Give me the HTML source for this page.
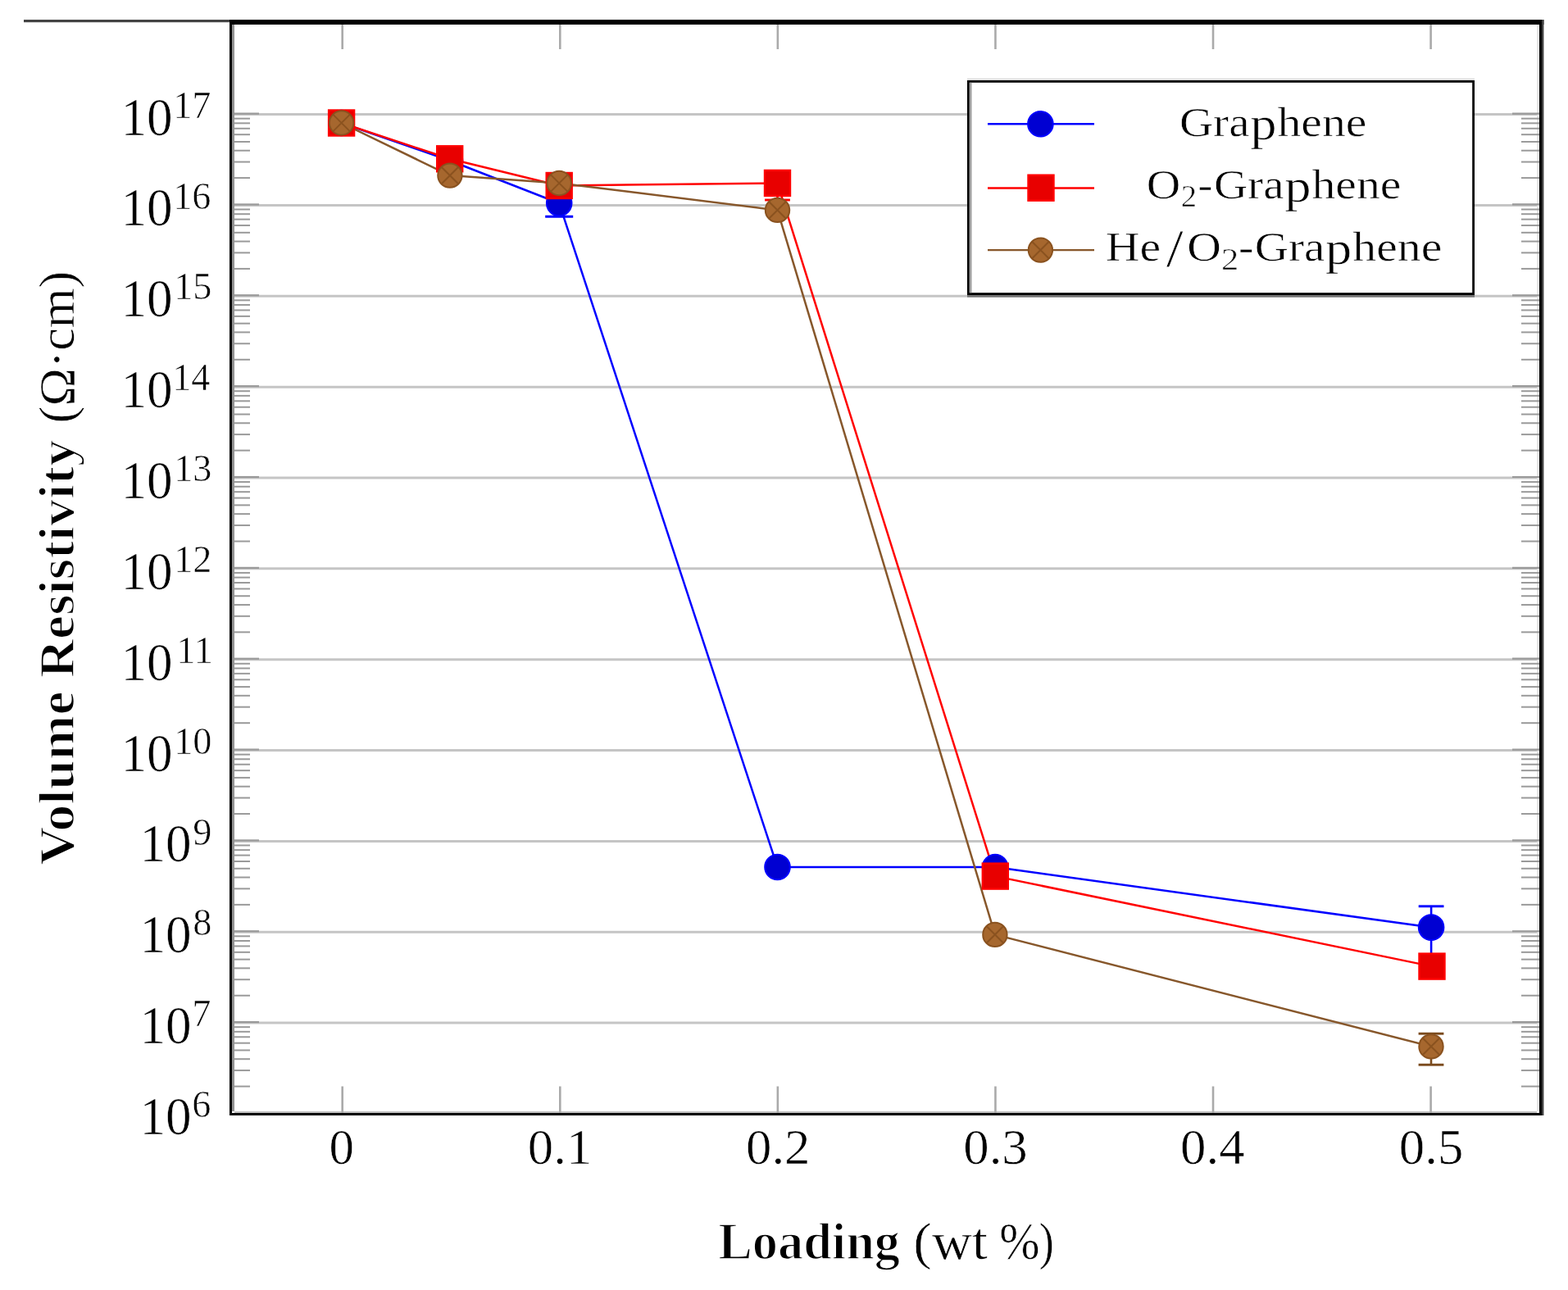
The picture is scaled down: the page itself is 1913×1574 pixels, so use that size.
<!DOCTYPE html><html><head><meta charset="utf-8"><style>html,body{margin:0;padding:0;background:#fff;}body{width:1913px;height:1574px;overflow:hidden;}svg{display:block;}text{font-family:"Liberation Serif", "DejaVu Serif", serif;stroke:#fff;stroke-width:0.6px;}text[font-weight=bold]{stroke-width:1.6px;}</style></head><body>
<svg width="1913" height="1574" viewBox="0 0 1913 1574">
<rect width="1913" height="1574" fill="#fff"/>
<rect x="29" y="24" width="252" height="3.2" fill="#444"/>
<rect x="283" y="30" width="3" height="1326" fill="#939393"/>
<rect x="1875" y="30" width="3" height="1326" fill="#e6e6e6"/>
<rect x="286" y="1355.8" width="1589" height="2.4" fill="#c2c2c2"/>
<line x1="286" y1="1248.10" x2="1875" y2="1248.10" stroke="#c5c5c5" stroke-width="3.0"/>
<line x1="286" y1="1137.25" x2="1875" y2="1137.25" stroke="#c5c5c5" stroke-width="3.0"/>
<line x1="286" y1="1026.40" x2="1875" y2="1026.40" stroke="#c5c5c5" stroke-width="3.0"/>
<line x1="286" y1="915.55" x2="1875" y2="915.55" stroke="#c5c5c5" stroke-width="3.0"/>
<line x1="286" y1="804.70" x2="1875" y2="804.70" stroke="#c5c5c5" stroke-width="3.0"/>
<line x1="286" y1="693.85" x2="1875" y2="693.85" stroke="#c5c5c5" stroke-width="3.0"/>
<line x1="286" y1="583.00" x2="1875" y2="583.00" stroke="#c5c5c5" stroke-width="3.0"/>
<line x1="286" y1="472.15" x2="1875" y2="472.15" stroke="#c5c5c5" stroke-width="3.0"/>
<line x1="286" y1="361.30" x2="1875" y2="361.30" stroke="#c5c5c5" stroke-width="3.0"/>
<line x1="286" y1="250.45" x2="1875" y2="250.45" stroke="#c5c5c5" stroke-width="3.0"/>
<line x1="286" y1="139.60" x2="1875" y2="139.60" stroke="#c5c5c5" stroke-width="3.0"/>
<line x1="286" y1="1325.58" x2="305" y2="1325.58" stroke="#9a9a9a" stroke-width="2"/>
<line x1="1856" y1="1325.58" x2="1878" y2="1325.58" stroke="#9a9a9a" stroke-width="2"/>
<line x1="286" y1="1306.06" x2="305" y2="1306.06" stroke="#9a9a9a" stroke-width="2"/>
<line x1="1856" y1="1306.06" x2="1878" y2="1306.06" stroke="#9a9a9a" stroke-width="2"/>
<line x1="286" y1="1292.21" x2="305" y2="1292.21" stroke="#9a9a9a" stroke-width="2"/>
<line x1="1856" y1="1292.21" x2="1878" y2="1292.21" stroke="#9a9a9a" stroke-width="2"/>
<line x1="286" y1="1281.47" x2="305" y2="1281.47" stroke="#9a9a9a" stroke-width="2"/>
<line x1="1856" y1="1281.47" x2="1878" y2="1281.47" stroke="#9a9a9a" stroke-width="2"/>
<line x1="286" y1="1272.69" x2="305" y2="1272.69" stroke="#9a9a9a" stroke-width="2"/>
<line x1="1856" y1="1272.69" x2="1878" y2="1272.69" stroke="#9a9a9a" stroke-width="2"/>
<line x1="286" y1="1265.27" x2="305" y2="1265.27" stroke="#9a9a9a" stroke-width="2"/>
<line x1="1856" y1="1265.27" x2="1878" y2="1265.27" stroke="#9a9a9a" stroke-width="2"/>
<line x1="286" y1="1258.84" x2="305" y2="1258.84" stroke="#9a9a9a" stroke-width="2"/>
<line x1="1856" y1="1258.84" x2="1878" y2="1258.84" stroke="#9a9a9a" stroke-width="2"/>
<line x1="286" y1="1253.17" x2="305" y2="1253.17" stroke="#9a9a9a" stroke-width="2"/>
<line x1="1856" y1="1253.17" x2="1878" y2="1253.17" stroke="#9a9a9a" stroke-width="2"/>
<line x1="286" y1="1247.10" x2="316" y2="1247.10" stroke="#999" stroke-width="2.2"/>
<line x1="1845" y1="1247.10" x2="1878" y2="1247.10" stroke="#999" stroke-width="2.2"/>
<line x1="286" y1="1214.73" x2="305" y2="1214.73" stroke="#9a9a9a" stroke-width="2"/>
<line x1="1856" y1="1214.73" x2="1878" y2="1214.73" stroke="#9a9a9a" stroke-width="2"/>
<line x1="286" y1="1195.21" x2="305" y2="1195.21" stroke="#9a9a9a" stroke-width="2"/>
<line x1="1856" y1="1195.21" x2="1878" y2="1195.21" stroke="#9a9a9a" stroke-width="2"/>
<line x1="286" y1="1181.36" x2="305" y2="1181.36" stroke="#9a9a9a" stroke-width="2"/>
<line x1="1856" y1="1181.36" x2="1878" y2="1181.36" stroke="#9a9a9a" stroke-width="2"/>
<line x1="286" y1="1170.62" x2="305" y2="1170.62" stroke="#9a9a9a" stroke-width="2"/>
<line x1="1856" y1="1170.62" x2="1878" y2="1170.62" stroke="#9a9a9a" stroke-width="2"/>
<line x1="286" y1="1161.84" x2="305" y2="1161.84" stroke="#9a9a9a" stroke-width="2"/>
<line x1="1856" y1="1161.84" x2="1878" y2="1161.84" stroke="#9a9a9a" stroke-width="2"/>
<line x1="286" y1="1154.42" x2="305" y2="1154.42" stroke="#9a9a9a" stroke-width="2"/>
<line x1="1856" y1="1154.42" x2="1878" y2="1154.42" stroke="#9a9a9a" stroke-width="2"/>
<line x1="286" y1="1147.99" x2="305" y2="1147.99" stroke="#9a9a9a" stroke-width="2"/>
<line x1="1856" y1="1147.99" x2="1878" y2="1147.99" stroke="#9a9a9a" stroke-width="2"/>
<line x1="286" y1="1142.32" x2="305" y2="1142.32" stroke="#9a9a9a" stroke-width="2"/>
<line x1="1856" y1="1142.32" x2="1878" y2="1142.32" stroke="#9a9a9a" stroke-width="2"/>
<line x1="286" y1="1136.25" x2="316" y2="1136.25" stroke="#999" stroke-width="2.2"/>
<line x1="1845" y1="1136.25" x2="1878" y2="1136.25" stroke="#999" stroke-width="2.2"/>
<line x1="286" y1="1103.88" x2="305" y2="1103.88" stroke="#9a9a9a" stroke-width="2"/>
<line x1="1856" y1="1103.88" x2="1878" y2="1103.88" stroke="#9a9a9a" stroke-width="2"/>
<line x1="286" y1="1084.36" x2="305" y2="1084.36" stroke="#9a9a9a" stroke-width="2"/>
<line x1="1856" y1="1084.36" x2="1878" y2="1084.36" stroke="#9a9a9a" stroke-width="2"/>
<line x1="286" y1="1070.51" x2="305" y2="1070.51" stroke="#9a9a9a" stroke-width="2"/>
<line x1="1856" y1="1070.51" x2="1878" y2="1070.51" stroke="#9a9a9a" stroke-width="2"/>
<line x1="286" y1="1059.77" x2="305" y2="1059.77" stroke="#9a9a9a" stroke-width="2"/>
<line x1="1856" y1="1059.77" x2="1878" y2="1059.77" stroke="#9a9a9a" stroke-width="2"/>
<line x1="286" y1="1050.99" x2="305" y2="1050.99" stroke="#9a9a9a" stroke-width="2"/>
<line x1="1856" y1="1050.99" x2="1878" y2="1050.99" stroke="#9a9a9a" stroke-width="2"/>
<line x1="286" y1="1043.57" x2="305" y2="1043.57" stroke="#9a9a9a" stroke-width="2"/>
<line x1="1856" y1="1043.57" x2="1878" y2="1043.57" stroke="#9a9a9a" stroke-width="2"/>
<line x1="286" y1="1037.14" x2="305" y2="1037.14" stroke="#9a9a9a" stroke-width="2"/>
<line x1="1856" y1="1037.14" x2="1878" y2="1037.14" stroke="#9a9a9a" stroke-width="2"/>
<line x1="286" y1="1031.47" x2="305" y2="1031.47" stroke="#9a9a9a" stroke-width="2"/>
<line x1="1856" y1="1031.47" x2="1878" y2="1031.47" stroke="#9a9a9a" stroke-width="2"/>
<line x1="286" y1="1025.40" x2="316" y2="1025.40" stroke="#999" stroke-width="2.2"/>
<line x1="1845" y1="1025.40" x2="1878" y2="1025.40" stroke="#999" stroke-width="2.2"/>
<line x1="286" y1="993.03" x2="305" y2="993.03" stroke="#9a9a9a" stroke-width="2"/>
<line x1="1856" y1="993.03" x2="1878" y2="993.03" stroke="#9a9a9a" stroke-width="2"/>
<line x1="286" y1="973.51" x2="305" y2="973.51" stroke="#9a9a9a" stroke-width="2"/>
<line x1="1856" y1="973.51" x2="1878" y2="973.51" stroke="#9a9a9a" stroke-width="2"/>
<line x1="286" y1="959.66" x2="305" y2="959.66" stroke="#9a9a9a" stroke-width="2"/>
<line x1="1856" y1="959.66" x2="1878" y2="959.66" stroke="#9a9a9a" stroke-width="2"/>
<line x1="286" y1="948.92" x2="305" y2="948.92" stroke="#9a9a9a" stroke-width="2"/>
<line x1="1856" y1="948.92" x2="1878" y2="948.92" stroke="#9a9a9a" stroke-width="2"/>
<line x1="286" y1="940.14" x2="305" y2="940.14" stroke="#9a9a9a" stroke-width="2"/>
<line x1="1856" y1="940.14" x2="1878" y2="940.14" stroke="#9a9a9a" stroke-width="2"/>
<line x1="286" y1="932.72" x2="305" y2="932.72" stroke="#9a9a9a" stroke-width="2"/>
<line x1="1856" y1="932.72" x2="1878" y2="932.72" stroke="#9a9a9a" stroke-width="2"/>
<line x1="286" y1="926.29" x2="305" y2="926.29" stroke="#9a9a9a" stroke-width="2"/>
<line x1="1856" y1="926.29" x2="1878" y2="926.29" stroke="#9a9a9a" stroke-width="2"/>
<line x1="286" y1="920.62" x2="305" y2="920.62" stroke="#9a9a9a" stroke-width="2"/>
<line x1="1856" y1="920.62" x2="1878" y2="920.62" stroke="#9a9a9a" stroke-width="2"/>
<line x1="286" y1="914.55" x2="316" y2="914.55" stroke="#999" stroke-width="2.2"/>
<line x1="1845" y1="914.55" x2="1878" y2="914.55" stroke="#999" stroke-width="2.2"/>
<line x1="286" y1="882.18" x2="305" y2="882.18" stroke="#9a9a9a" stroke-width="2"/>
<line x1="1856" y1="882.18" x2="1878" y2="882.18" stroke="#9a9a9a" stroke-width="2"/>
<line x1="286" y1="862.66" x2="305" y2="862.66" stroke="#9a9a9a" stroke-width="2"/>
<line x1="1856" y1="862.66" x2="1878" y2="862.66" stroke="#9a9a9a" stroke-width="2"/>
<line x1="286" y1="848.81" x2="305" y2="848.81" stroke="#9a9a9a" stroke-width="2"/>
<line x1="1856" y1="848.81" x2="1878" y2="848.81" stroke="#9a9a9a" stroke-width="2"/>
<line x1="286" y1="838.07" x2="305" y2="838.07" stroke="#9a9a9a" stroke-width="2"/>
<line x1="1856" y1="838.07" x2="1878" y2="838.07" stroke="#9a9a9a" stroke-width="2"/>
<line x1="286" y1="829.29" x2="305" y2="829.29" stroke="#9a9a9a" stroke-width="2"/>
<line x1="1856" y1="829.29" x2="1878" y2="829.29" stroke="#9a9a9a" stroke-width="2"/>
<line x1="286" y1="821.87" x2="305" y2="821.87" stroke="#9a9a9a" stroke-width="2"/>
<line x1="1856" y1="821.87" x2="1878" y2="821.87" stroke="#9a9a9a" stroke-width="2"/>
<line x1="286" y1="815.44" x2="305" y2="815.44" stroke="#9a9a9a" stroke-width="2"/>
<line x1="1856" y1="815.44" x2="1878" y2="815.44" stroke="#9a9a9a" stroke-width="2"/>
<line x1="286" y1="809.77" x2="305" y2="809.77" stroke="#9a9a9a" stroke-width="2"/>
<line x1="1856" y1="809.77" x2="1878" y2="809.77" stroke="#9a9a9a" stroke-width="2"/>
<line x1="286" y1="803.70" x2="316" y2="803.70" stroke="#999" stroke-width="2.2"/>
<line x1="1845" y1="803.70" x2="1878" y2="803.70" stroke="#999" stroke-width="2.2"/>
<line x1="286" y1="771.33" x2="305" y2="771.33" stroke="#9a9a9a" stroke-width="2"/>
<line x1="1856" y1="771.33" x2="1878" y2="771.33" stroke="#9a9a9a" stroke-width="2"/>
<line x1="286" y1="751.81" x2="305" y2="751.81" stroke="#9a9a9a" stroke-width="2"/>
<line x1="1856" y1="751.81" x2="1878" y2="751.81" stroke="#9a9a9a" stroke-width="2"/>
<line x1="286" y1="737.96" x2="305" y2="737.96" stroke="#9a9a9a" stroke-width="2"/>
<line x1="1856" y1="737.96" x2="1878" y2="737.96" stroke="#9a9a9a" stroke-width="2"/>
<line x1="286" y1="727.22" x2="305" y2="727.22" stroke="#9a9a9a" stroke-width="2"/>
<line x1="1856" y1="727.22" x2="1878" y2="727.22" stroke="#9a9a9a" stroke-width="2"/>
<line x1="286" y1="718.44" x2="305" y2="718.44" stroke="#9a9a9a" stroke-width="2"/>
<line x1="1856" y1="718.44" x2="1878" y2="718.44" stroke="#9a9a9a" stroke-width="2"/>
<line x1="286" y1="711.02" x2="305" y2="711.02" stroke="#9a9a9a" stroke-width="2"/>
<line x1="1856" y1="711.02" x2="1878" y2="711.02" stroke="#9a9a9a" stroke-width="2"/>
<line x1="286" y1="704.59" x2="305" y2="704.59" stroke="#9a9a9a" stroke-width="2"/>
<line x1="1856" y1="704.59" x2="1878" y2="704.59" stroke="#9a9a9a" stroke-width="2"/>
<line x1="286" y1="698.92" x2="305" y2="698.92" stroke="#9a9a9a" stroke-width="2"/>
<line x1="1856" y1="698.92" x2="1878" y2="698.92" stroke="#9a9a9a" stroke-width="2"/>
<line x1="286" y1="692.85" x2="316" y2="692.85" stroke="#999" stroke-width="2.2"/>
<line x1="1845" y1="692.85" x2="1878" y2="692.85" stroke="#999" stroke-width="2.2"/>
<line x1="286" y1="660.48" x2="305" y2="660.48" stroke="#9a9a9a" stroke-width="2"/>
<line x1="1856" y1="660.48" x2="1878" y2="660.48" stroke="#9a9a9a" stroke-width="2"/>
<line x1="286" y1="640.96" x2="305" y2="640.96" stroke="#9a9a9a" stroke-width="2"/>
<line x1="1856" y1="640.96" x2="1878" y2="640.96" stroke="#9a9a9a" stroke-width="2"/>
<line x1="286" y1="627.11" x2="305" y2="627.11" stroke="#9a9a9a" stroke-width="2"/>
<line x1="1856" y1="627.11" x2="1878" y2="627.11" stroke="#9a9a9a" stroke-width="2"/>
<line x1="286" y1="616.37" x2="305" y2="616.37" stroke="#9a9a9a" stroke-width="2"/>
<line x1="1856" y1="616.37" x2="1878" y2="616.37" stroke="#9a9a9a" stroke-width="2"/>
<line x1="286" y1="607.59" x2="305" y2="607.59" stroke="#9a9a9a" stroke-width="2"/>
<line x1="1856" y1="607.59" x2="1878" y2="607.59" stroke="#9a9a9a" stroke-width="2"/>
<line x1="286" y1="600.17" x2="305" y2="600.17" stroke="#9a9a9a" stroke-width="2"/>
<line x1="1856" y1="600.17" x2="1878" y2="600.17" stroke="#9a9a9a" stroke-width="2"/>
<line x1="286" y1="593.74" x2="305" y2="593.74" stroke="#9a9a9a" stroke-width="2"/>
<line x1="1856" y1="593.74" x2="1878" y2="593.74" stroke="#9a9a9a" stroke-width="2"/>
<line x1="286" y1="588.07" x2="305" y2="588.07" stroke="#9a9a9a" stroke-width="2"/>
<line x1="1856" y1="588.07" x2="1878" y2="588.07" stroke="#9a9a9a" stroke-width="2"/>
<line x1="286" y1="582.00" x2="316" y2="582.00" stroke="#999" stroke-width="2.2"/>
<line x1="1845" y1="582.00" x2="1878" y2="582.00" stroke="#999" stroke-width="2.2"/>
<line x1="286" y1="549.63" x2="305" y2="549.63" stroke="#9a9a9a" stroke-width="2"/>
<line x1="1856" y1="549.63" x2="1878" y2="549.63" stroke="#9a9a9a" stroke-width="2"/>
<line x1="286" y1="530.11" x2="305" y2="530.11" stroke="#9a9a9a" stroke-width="2"/>
<line x1="1856" y1="530.11" x2="1878" y2="530.11" stroke="#9a9a9a" stroke-width="2"/>
<line x1="286" y1="516.26" x2="305" y2="516.26" stroke="#9a9a9a" stroke-width="2"/>
<line x1="1856" y1="516.26" x2="1878" y2="516.26" stroke="#9a9a9a" stroke-width="2"/>
<line x1="286" y1="505.52" x2="305" y2="505.52" stroke="#9a9a9a" stroke-width="2"/>
<line x1="1856" y1="505.52" x2="1878" y2="505.52" stroke="#9a9a9a" stroke-width="2"/>
<line x1="286" y1="496.74" x2="305" y2="496.74" stroke="#9a9a9a" stroke-width="2"/>
<line x1="1856" y1="496.74" x2="1878" y2="496.74" stroke="#9a9a9a" stroke-width="2"/>
<line x1="286" y1="489.32" x2="305" y2="489.32" stroke="#9a9a9a" stroke-width="2"/>
<line x1="1856" y1="489.32" x2="1878" y2="489.32" stroke="#9a9a9a" stroke-width="2"/>
<line x1="286" y1="482.89" x2="305" y2="482.89" stroke="#9a9a9a" stroke-width="2"/>
<line x1="1856" y1="482.89" x2="1878" y2="482.89" stroke="#9a9a9a" stroke-width="2"/>
<line x1="286" y1="477.22" x2="305" y2="477.22" stroke="#9a9a9a" stroke-width="2"/>
<line x1="1856" y1="477.22" x2="1878" y2="477.22" stroke="#9a9a9a" stroke-width="2"/>
<line x1="286" y1="471.15" x2="316" y2="471.15" stroke="#999" stroke-width="2.2"/>
<line x1="1845" y1="471.15" x2="1878" y2="471.15" stroke="#999" stroke-width="2.2"/>
<line x1="286" y1="438.78" x2="305" y2="438.78" stroke="#9a9a9a" stroke-width="2"/>
<line x1="1856" y1="438.78" x2="1878" y2="438.78" stroke="#9a9a9a" stroke-width="2"/>
<line x1="286" y1="419.26" x2="305" y2="419.26" stroke="#9a9a9a" stroke-width="2"/>
<line x1="1856" y1="419.26" x2="1878" y2="419.26" stroke="#9a9a9a" stroke-width="2"/>
<line x1="286" y1="405.41" x2="305" y2="405.41" stroke="#9a9a9a" stroke-width="2"/>
<line x1="1856" y1="405.41" x2="1878" y2="405.41" stroke="#9a9a9a" stroke-width="2"/>
<line x1="286" y1="394.67" x2="305" y2="394.67" stroke="#9a9a9a" stroke-width="2"/>
<line x1="1856" y1="394.67" x2="1878" y2="394.67" stroke="#9a9a9a" stroke-width="2"/>
<line x1="286" y1="385.89" x2="305" y2="385.89" stroke="#9a9a9a" stroke-width="2"/>
<line x1="1856" y1="385.89" x2="1878" y2="385.89" stroke="#9a9a9a" stroke-width="2"/>
<line x1="286" y1="378.47" x2="305" y2="378.47" stroke="#9a9a9a" stroke-width="2"/>
<line x1="1856" y1="378.47" x2="1878" y2="378.47" stroke="#9a9a9a" stroke-width="2"/>
<line x1="286" y1="372.04" x2="305" y2="372.04" stroke="#9a9a9a" stroke-width="2"/>
<line x1="1856" y1="372.04" x2="1878" y2="372.04" stroke="#9a9a9a" stroke-width="2"/>
<line x1="286" y1="366.37" x2="305" y2="366.37" stroke="#9a9a9a" stroke-width="2"/>
<line x1="1856" y1="366.37" x2="1878" y2="366.37" stroke="#9a9a9a" stroke-width="2"/>
<line x1="286" y1="360.30" x2="316" y2="360.30" stroke="#999" stroke-width="2.2"/>
<line x1="1845" y1="360.30" x2="1878" y2="360.30" stroke="#999" stroke-width="2.2"/>
<line x1="286" y1="327.93" x2="305" y2="327.93" stroke="#9a9a9a" stroke-width="2"/>
<line x1="1856" y1="327.93" x2="1878" y2="327.93" stroke="#9a9a9a" stroke-width="2"/>
<line x1="286" y1="308.41" x2="305" y2="308.41" stroke="#9a9a9a" stroke-width="2"/>
<line x1="1856" y1="308.41" x2="1878" y2="308.41" stroke="#9a9a9a" stroke-width="2"/>
<line x1="286" y1="294.56" x2="305" y2="294.56" stroke="#9a9a9a" stroke-width="2"/>
<line x1="1856" y1="294.56" x2="1878" y2="294.56" stroke="#9a9a9a" stroke-width="2"/>
<line x1="286" y1="283.82" x2="305" y2="283.82" stroke="#9a9a9a" stroke-width="2"/>
<line x1="1856" y1="283.82" x2="1878" y2="283.82" stroke="#9a9a9a" stroke-width="2"/>
<line x1="286" y1="275.04" x2="305" y2="275.04" stroke="#9a9a9a" stroke-width="2"/>
<line x1="1856" y1="275.04" x2="1878" y2="275.04" stroke="#9a9a9a" stroke-width="2"/>
<line x1="286" y1="267.62" x2="305" y2="267.62" stroke="#9a9a9a" stroke-width="2"/>
<line x1="1856" y1="267.62" x2="1878" y2="267.62" stroke="#9a9a9a" stroke-width="2"/>
<line x1="286" y1="261.19" x2="305" y2="261.19" stroke="#9a9a9a" stroke-width="2"/>
<line x1="1856" y1="261.19" x2="1878" y2="261.19" stroke="#9a9a9a" stroke-width="2"/>
<line x1="286" y1="255.52" x2="305" y2="255.52" stroke="#9a9a9a" stroke-width="2"/>
<line x1="1856" y1="255.52" x2="1878" y2="255.52" stroke="#9a9a9a" stroke-width="2"/>
<line x1="286" y1="249.45" x2="316" y2="249.45" stroke="#999" stroke-width="2.2"/>
<line x1="1845" y1="249.45" x2="1878" y2="249.45" stroke="#999" stroke-width="2.2"/>
<line x1="286" y1="217.08" x2="305" y2="217.08" stroke="#9a9a9a" stroke-width="2"/>
<line x1="1856" y1="217.08" x2="1878" y2="217.08" stroke="#9a9a9a" stroke-width="2"/>
<line x1="286" y1="197.56" x2="305" y2="197.56" stroke="#9a9a9a" stroke-width="2"/>
<line x1="1856" y1="197.56" x2="1878" y2="197.56" stroke="#9a9a9a" stroke-width="2"/>
<line x1="286" y1="183.71" x2="305" y2="183.71" stroke="#9a9a9a" stroke-width="2"/>
<line x1="1856" y1="183.71" x2="1878" y2="183.71" stroke="#9a9a9a" stroke-width="2"/>
<line x1="286" y1="172.97" x2="305" y2="172.97" stroke="#9a9a9a" stroke-width="2"/>
<line x1="1856" y1="172.97" x2="1878" y2="172.97" stroke="#9a9a9a" stroke-width="2"/>
<line x1="286" y1="164.19" x2="305" y2="164.19" stroke="#9a9a9a" stroke-width="2"/>
<line x1="1856" y1="164.19" x2="1878" y2="164.19" stroke="#9a9a9a" stroke-width="2"/>
<line x1="286" y1="156.77" x2="305" y2="156.77" stroke="#9a9a9a" stroke-width="2"/>
<line x1="1856" y1="156.77" x2="1878" y2="156.77" stroke="#9a9a9a" stroke-width="2"/>
<line x1="286" y1="150.34" x2="305" y2="150.34" stroke="#9a9a9a" stroke-width="2"/>
<line x1="1856" y1="150.34" x2="1878" y2="150.34" stroke="#9a9a9a" stroke-width="2"/>
<line x1="286" y1="144.67" x2="305" y2="144.67" stroke="#9a9a9a" stroke-width="2"/>
<line x1="1856" y1="144.67" x2="1878" y2="144.67" stroke="#9a9a9a" stroke-width="2"/>
<line x1="286" y1="138.60" x2="316" y2="138.60" stroke="#999" stroke-width="2.2"/>
<line x1="1845" y1="138.60" x2="1878" y2="138.60" stroke="#999" stroke-width="2.2"/>
<line x1="417.70" y1="30" x2="417.70" y2="60" stroke="#aaa" stroke-width="2.6"/>
<line x1="417.70" y1="1325.5" x2="417.70" y2="1358" stroke="#aaa" stroke-width="2.6"/>
<line x1="683.28" y1="30" x2="683.28" y2="60" stroke="#aaa" stroke-width="2.6"/>
<line x1="683.28" y1="1325.5" x2="683.28" y2="1358" stroke="#aaa" stroke-width="2.6"/>
<line x1="948.86" y1="30" x2="948.86" y2="60" stroke="#aaa" stroke-width="2.6"/>
<line x1="948.86" y1="1325.5" x2="948.86" y2="1358" stroke="#aaa" stroke-width="2.6"/>
<line x1="1214.44" y1="30" x2="1214.44" y2="60" stroke="#aaa" stroke-width="2.6"/>
<line x1="1214.44" y1="1325.5" x2="1214.44" y2="1358" stroke="#aaa" stroke-width="2.6"/>
<line x1="1480.02" y1="30" x2="1480.02" y2="60" stroke="#aaa" stroke-width="2.6"/>
<line x1="1480.02" y1="1325.5" x2="1480.02" y2="1358" stroke="#aaa" stroke-width="2.6"/>
<line x1="1745.60" y1="30" x2="1745.60" y2="60" stroke="#aaa" stroke-width="2.6"/>
<line x1="1745.60" y1="1325.5" x2="1745.60" y2="1358" stroke="#aaa" stroke-width="2.6"/>
<rect x="280" y="24" width="3" height="1337" fill="#000"/>
<rect x="280" y="24" width="1603.4" height="6" fill="#000"/>
<rect x="1878" y="24" width="3" height="1337" fill="#000"/>
<rect x="1881" y="24" width="2.4" height="1337" fill="#404040"/>
<rect x="280" y="1358" width="1601" height="3" fill="#000"/>
<polyline points="416.6,150.0 549.0,196.0 682.2,248.0 948.5,1058.0 1214.1,1058.0 1746.1,1131.6" fill="none" stroke="#0000ff" stroke-width="2.5" stroke-linejoin="round"/>
<polyline points="416.6,150.0 548.7,193.8 682.2,226.5 948.5,223.4 1214.3,1069.1 1747.0,1179.1" fill="none" stroke="#ff0000" stroke-width="2.5" stroke-linejoin="round"/>
<polyline points="416.6,150.0 548.9,214.1 682.2,223.5 948.5,256.4 1213.9,1140.4 1746.0,1276.9" fill="none" stroke="#87572b" stroke-width="2.5" stroke-linejoin="round"/>
<line x1="682.2" y1="248" x2="682.2" y2="264.3" stroke="#0000ff" stroke-width="2.6"/>
<line x1="665.2" y1="264.3" x2="699.2" y2="264.3" stroke="#0000ff" stroke-width="2.9"/>
<line x1="1746.1" y1="1105.8" x2="1746.1" y2="1165" stroke="#0000ff" stroke-width="2.6"/>
<line x1="1730.6999999999998" y1="1105.8" x2="1761.5" y2="1105.8" stroke="#0000ff" stroke-width="2.9"/>
<line x1="948.5" y1="223.4" x2="948.5" y2="244" stroke="#ff0000" stroke-width="2.6"/>
<line x1="933.1" y1="244" x2="963.9" y2="244" stroke="#ff0000" stroke-width="2.9"/>
<line x1="1746" y1="1261.2" x2="1746" y2="1299.2" stroke="#7a4a1c" stroke-width="2.6"/>
<line x1="1730.6" y1="1261.2" x2="1761.4" y2="1261.2" stroke="#7a4a1c" stroke-width="2.9"/>
<line x1="1730.6" y1="1299.2" x2="1761.4" y2="1299.2" stroke="#7a4a1c" stroke-width="2.9"/>
<circle cx="416.6" cy="150" r="15.3" fill="#0000d2" stroke="#0000ff" stroke-width="2"/>
<circle cx="549" cy="196" r="15.3" fill="#0000d2" stroke="#0000ff" stroke-width="2"/>
<circle cx="682.2" cy="248" r="15.3" fill="#0000d2" stroke="#0000ff" stroke-width="2"/>
<circle cx="948.5" cy="1058" r="15.3" fill="#0000d2" stroke="#0000ff" stroke-width="2"/>
<circle cx="1214.1" cy="1058" r="15.3" fill="#0000d2" stroke="#0000ff" stroke-width="2"/>
<circle cx="1746.1" cy="1131.6" r="15.3" fill="#0000d2" stroke="#0000ff" stroke-width="2"/>
<rect x="401.10" y="134.50" width="31" height="31" fill="#e80000" stroke="#ff0000" stroke-width="2.4"/>
<rect x="533.20" y="178.30" width="31" height="31" fill="#e80000" stroke="#ff0000" stroke-width="2.4"/>
<rect x="666.70" y="211.00" width="31" height="31" fill="#e80000" stroke="#ff0000" stroke-width="2.4"/>
<rect x="933.00" y="207.90" width="31" height="31" fill="#e80000" stroke="#ff0000" stroke-width="2.4"/>
<rect x="1198.80" y="1053.60" width="31" height="31" fill="#e80000" stroke="#ff0000" stroke-width="2.4"/>
<rect x="1731.50" y="1163.60" width="31" height="31" fill="#e80000" stroke="#ff0000" stroke-width="2.4"/>
<circle cx="416.6" cy="150" r="14.7" fill="#a6672e" stroke="#8a521f" stroke-width="2"/>
<path d="M406.21,139.61L426.99,160.39M406.21,160.39L426.99,139.61" stroke="#8a521f" stroke-width="2"/>
<circle cx="548.9" cy="214.1" r="14.7" fill="#a6672e" stroke="#8a521f" stroke-width="2"/>
<path d="M538.51,203.71L559.29,224.49M538.51,224.49L559.29,203.71" stroke="#8a521f" stroke-width="2"/>
<circle cx="682.2" cy="223.5" r="14.7" fill="#a6672e" stroke="#8a521f" stroke-width="2"/>
<path d="M671.81,213.11L692.59,233.89M671.81,233.89L692.59,213.11" stroke="#8a521f" stroke-width="2"/>
<circle cx="948.5" cy="256.4" r="14.7" fill="#a6672e" stroke="#8a521f" stroke-width="2"/>
<path d="M938.11,246.01L958.89,266.79M938.11,266.79L958.89,246.01" stroke="#8a521f" stroke-width="2"/>
<circle cx="1213.9" cy="1140.4" r="14.7" fill="#a6672e" stroke="#8a521f" stroke-width="2"/>
<path d="M1203.51,1130.01L1224.29,1150.79M1203.51,1150.79L1224.29,1130.01" stroke="#8a521f" stroke-width="2"/>
<circle cx="1746" cy="1276.9" r="14.7" fill="#a6672e" stroke="#8a521f" stroke-width="2"/>
<path d="M1735.61,1266.51L1756.39,1287.29M1735.61,1287.29L1756.39,1266.51" stroke="#8a521f" stroke-width="2"/>
<rect x="1180" y="95.6" width="619" height="2.2" fill="#dcdcdc"/>
<rect x="1180" y="359.8" width="619" height="2.9" fill="#727272"/>
<rect x="1181.4" y="99.4" width="616.2" height="259.2" fill="#fff" stroke="#000" stroke-width="2.8"/>
<rect x="1182.8" y="100.8" width="2.7" height="256.4" fill="#a0a0a0"/>
<line x1="1205" y1="151.2" x2="1335" y2="151.2" stroke="#0000ff" stroke-width="2.4"/>
<line x1="1205" y1="229.5" x2="1335" y2="229.5" stroke="#ff0000" stroke-width="2.4"/>
<line x1="1205" y1="305.1" x2="1335" y2="305.1" stroke="#87572b" stroke-width="2.4"/>
<circle cx="1269.4" cy="151.2" r="15.3" fill="#0000d2" stroke="#0000ff" stroke-width="2"/>
<rect x="1254.50" y="213.70" width="31" height="31" fill="#e80000" stroke="#ff0000" stroke-width="2.4"/>
<circle cx="1269.4" cy="305.1" r="14.7" fill="#a6672e" stroke="#8a521f" stroke-width="2"/>
<path d="M1259.01,294.71L1279.79,315.49M1259.01,315.49L1279.79,294.71" stroke="#8a521f" stroke-width="2"/>
<text transform="translate(1438.89,165.70) scale(1.1067,1)" font-size="51.6" fill="#000" >Gra</text>
<text transform="translate(1525.15,169.87) scale(1.2522,1.1028)" font-size="51.6">p</text>
<text transform="translate(1558.40,165.70) scale(1.1196,1)" font-size="51.6" fill="#000" >hene</text>
<text transform="translate(1398.77,242.20) scale(1.1147,1)" font-size="51.6" fill="#000" >O</text>
<text transform="translate(1440.76,252.30) scale(1.0438,1)" font-size="37" fill="#000" >2</text>
<text transform="translate(1461.27,242.20) scale(1.0643,1)" font-size="51.6" fill="#000" >-</text>
<text transform="translate(1480.89,242.20) scale(1.1067,1)" font-size="51.6" fill="#000" >Gra</text>
<text transform="translate(1567.15,246.37) scale(1.2522,1.1028)" font-size="51.6">p</text>
<text transform="translate(1600.40,242.20) scale(1.1196,1)" font-size="51.6" fill="#000" >hene</text>
<text transform="translate(1348.68,318.20) scale(1.1207,1)" font-size="51.6" fill="#000" >He</text>
<text transform="translate(1422.80,325.24) scale(1.4600,1.2639)" font-size="51.6">/</text>
<text transform="translate(1448.16,318.20) scale(1.1176,1)" font-size="51.6" fill="#000" >O</text>
<text transform="translate(1490.05,328.60) scale(1.1500,1)" font-size="37" fill="#000" >2</text>
<text transform="translate(1511.03,318.20) scale(1.0857,1)" font-size="51.6" fill="#000" >-</text>
<text transform="translate(1530.79,318.20) scale(1.1067,1)" font-size="51.6" fill="#000" >Gra</text>
<text transform="translate(1617.05,322.37) scale(1.2522,1.1028)" font-size="51.6">p</text>
<text transform="translate(1650.30,318.20) scale(1.1196,1)" font-size="51.6" fill="#000" >hene</text>
<text transform="translate(401.60,1419.80) scale(1.0000,1)" font-size="61" fill="#000" >0</text>
<text transform="translate(643.78,1419.80) scale(1.0300,1)" font-size="61" fill="#000" >0.1</text>
<text transform="translate(909.98,1419.80) scale(1.0300,1)" font-size="61" fill="#000" >0.2</text>
<text transform="translate(1175.26,1419.80) scale(1.0300,1)" font-size="61" fill="#000" >0.3</text>
<text transform="translate(1440.03,1419.80) scale(1.0300,1)" font-size="61" fill="#000" >0.4</text>
<text transform="translate(1706.86,1419.80) scale(1.0300,1)" font-size="61" fill="#000" >0.5</text>
<text transform="translate(234.20,1363.05) scale(1.0000,1)" font-size="46.3" fill="#000" >6</text>
<text transform="translate(170.41,1383.95) scale(0.9789,1)" font-size="64.5" fill="#000" >10</text>
<text transform="translate(234.20,1252.20) scale(1.0000,1)" font-size="46.3" fill="#000" >7</text>
<text transform="translate(170.41,1273.10) scale(0.9789,1)" font-size="64.5" fill="#000" >10</text>
<text transform="translate(235.20,1141.35) scale(1.0000,1)" font-size="46.3" fill="#000" >8</text>
<text transform="translate(170.41,1162.25) scale(0.9789,1)" font-size="64.5" fill="#000" >10</text>
<text transform="translate(235.20,1030.50) scale(1.0000,1)" font-size="46.3" fill="#000" >9</text>
<text transform="translate(170.41,1051.40) scale(0.9789,1)" font-size="64.5" fill="#000" >10</text>
<text transform="translate(212.20,919.65) scale(1.0000,1)" font-size="46.3" fill="#000" >10</text>
<text transform="translate(147.41,940.55) scale(0.9789,1)" font-size="64.5" fill="#000" >10</text>
<text transform="translate(215.20,808.80) scale(1.0000,1)" font-size="46.3" fill="#000" >11</text>
<text transform="translate(147.41,829.70) scale(0.9789,1)" font-size="64.5" fill="#000" >10</text>
<text transform="translate(212.20,697.95) scale(1.0000,1)" font-size="46.3" fill="#000" >12</text>
<text transform="translate(147.41,718.85) scale(0.9789,1)" font-size="64.5" fill="#000" >10</text>
<text transform="translate(212.20,587.10) scale(1.0000,1)" font-size="46.3" fill="#000" >13</text>
<text transform="translate(147.41,608.00) scale(0.9789,1)" font-size="64.5" fill="#000" >10</text>
<text transform="translate(210.20,476.25) scale(1.0000,1)" font-size="46.3" fill="#000" >14</text>
<text transform="translate(147.41,497.15) scale(0.9789,1)" font-size="64.5" fill="#000" >10</text>
<text transform="translate(212.20,365.40) scale(1.0000,1)" font-size="46.3" fill="#000" >15</text>
<text transform="translate(147.41,386.30) scale(0.9789,1)" font-size="64.5" fill="#000" >10</text>
<text transform="translate(211.20,254.55) scale(1.0000,1)" font-size="46.3" fill="#000" >16</text>
<text transform="translate(147.41,275.45) scale(0.9789,1)" font-size="64.5" fill="#000" >10</text>
<text transform="translate(211.20,143.70) scale(1.0000,1)" font-size="46.3" fill="#000" >17</text>
<text transform="translate(147.41,164.60) scale(0.9789,1)" font-size="64.5" fill="#000" >10</text>
<text transform="translate(876.21,1535.50) scale(0.9901,1)" font-size="63" font-weight="bold" fill="#000" >Loading</text>
<text transform="translate(1114.37,1535.50) scale(1.0775,1)" font-size="63" fill="#000" >(wt</text>
<text transform="translate(1219.22,1535.50) scale(0.9388,1)" font-size="63" fill="#000" >%</text>
<text transform="translate(1267.68,1535.50) scale(0.8625,1)" font-size="63" fill="#000" >)</text>
<text transform="translate(90.30,1055.70) rotate(-90) scale(1.0557,1)" font-size="62" font-weight="bold">Volume Resistivity</text>
<text transform="translate(90.30,516.42) rotate(-90) scale(1.0117,1)" font-size="62">(Ω·cm)</text>
</svg></body></html>
